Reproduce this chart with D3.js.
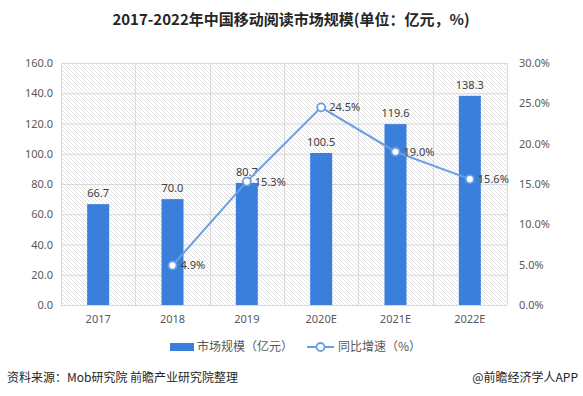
<!DOCTYPE html>
<html>
<head>
<meta charset="utf-8">
<title>中国移动阅读市场规模</title>
<script src="https://cdnjs.cloudflare.com/ajax/libs/d3/7.8.5/d3.min.js"></script>
<style>
  body { margin: 0; background: #fff; }
  text { font-family: "Microsoft YaHei", "Noto Sans CJK SC", sans-serif; }
</style>
</head>
<body>
<div id="chart"></div>
<script>
var years = ["2017", "2018", "2019", "2020E", "2021E", "2022E"];
var marketSize = [66.7, 70.0, 80.7, 100.5, 119.6, 138.3];
var growth = [null, 4.9, 15.3, 24.5, 19.0, 15.6];
var leftTicks = [0, 20, 40, 60, 80, 100, 120, 140, 160];
var rightTicks = [0, 5, 10, 15, 20, 25, 30];

var W = 583, H = 396;
var m = { left: 61, right: 507, top: 63, bottom: 305 };

var svg = d3.select("#chart").append("svg")
    .attr("width", W).attr("height", H);

// hatched plot background
var pat = svg.append("defs").append("pattern")
    .attr("id", "hatch").attr("patternUnits", "userSpaceOnUse")
    .attr("width", 4).attr("height", 4);
pat.append("path").attr("d", "M-1,-1 L5,5 M3,-1 L5,1 M-1,3 L1,5")
    .attr("stroke", "#d9d9d9").attr("stroke-width", 0.8);

var x = d3.scaleBand().domain(years).range([m.left, m.right]).paddingInner(0);
var y = d3.scaleLinear().domain([0, 160]).range([m.bottom, m.top]);
var y2 = d3.scaleLinear().domain([0, 30]).range([m.bottom, m.top]);

svg.append("rect").attr("x", m.left).attr("y", m.top)
    .attr("width", m.right - m.left).attr("height", m.bottom - m.top)
    .attr("fill", "url(#hatch)");

// grid
svg.append("g").selectAll("line").data(leftTicks).join("line")
    .attr("x1", m.left).attr("x2", m.right)
    .attr("y1", d => y(d) + 0.5).attr("y2", d => y(d) + 0.5)
    .attr("stroke", "#d9d9d9");
svg.append("g").selectAll("line").data(years.concat(["end"])).join("line")
    .attr("x1", (d, i) => Math.round(m.left + i * x.bandwidth()) + 0.5)
    .attr("x2", (d, i) => Math.round(m.left + i * x.bandwidth()) + 0.5)
    .attr("y1", m.top).attr("y2", m.bottom)
    .attr("stroke", "#d9d9d9");

// axes
var axL = svg.append("g").attr("transform", "translate(" + m.left + ",0)")
    .call(d3.axisLeft(y).tickValues(leftTicks).tickFormat(d3.format(".1f")).tickSize(0).tickPadding(8));
var axR = svg.append("g").attr("transform", "translate(" + m.right + ",0)")
    .call(d3.axisRight(y2).tickValues(rightTicks).tickFormat(d => d.toFixed(1) + "%").tickSize(0).tickPadding(12));
var axB = svg.append("g").attr("transform", "translate(0," + m.bottom + ")")
    .call(d3.axisBottom(x).tickSize(0).tickPadding(10));
[axL, axR, axB].forEach(function (a) {
  a.select(".domain").remove();
  a.selectAll("text").attr("fill", "#595959").style("font-size", "11px")
    .style("font-family", "'Noto Sans', sans-serif");
});

// bars
var bw = 22;
svg.append("g").selectAll("rect").data(marketSize).join("rect")
    .attr("x", (d, i) => x(years[i]) + x.bandwidth() / 2 - bw / 2)
    .attr("y", d => y(d))
    .attr("width", bw)
    .attr("height", d => y(0) - y(d))
    .attr("fill", "#3b7fdc");
svg.append("g").selectAll("text").data(marketSize).join("text")
    .attr("x", (d, i) => x(years[i]) + x.bandwidth() / 2)
    .attr("y", d => y(d) - 7)
    .attr("text-anchor", "middle")
    .attr("fill", "#404040").style("font-size", "11px")
    .style("font-family", "'Noto Sans', sans-serif")
    .text(d => d.toFixed(1));

// line
var pts = growth.map((g, i) => ({ g: g, yr: years[i] })).filter(d => d.g !== null);
var line = d3.line().x(d => x(d.yr) + x.bandwidth() / 2).y(d => y2(d.g));
svg.append("path").datum(pts).attr("d", line)
    .attr("fill", "none").attr("stroke", "#6b9fe0").attr("stroke-width", 2);
svg.append("g").selectAll("circle").data(pts).join("circle")
    .attr("cx", d => x(d.yr) + x.bandwidth() / 2)
    .attr("cy", d => y2(d.g))
    .attr("r", 4)
    .attr("fill", "#fff").attr("stroke", "#6b9fe0").attr("stroke-width", 1.8);
svg.append("g").selectAll("text").data(pts).join("text")
    .attr("x", d => x(d.yr) + x.bandwidth() / 2 + 8)
    .attr("y", d => y2(d.g) + 4)
    .attr("fill", "#404040").style("font-size", "11px")
    .style("font-family", "'Noto Sans', sans-serif")
    .text(d => d.g.toFixed(1) + "%");

// title
svg.append("text").attr("x", 291).attr("y", 25).attr("text-anchor", "middle")
    .attr("fill", "#262626").style("font-size", "15px").style("font-weight", "bold")
    .text("2017-2022年中国移动阅读市场规模(单位：亿元，%)");

// legend
var lg = svg.append("g").attr("transform", "translate(0,347)");
lg.append("rect").attr("x", 170).attr("y", -4).attr("width", 24).attr("height", 8).attr("fill", "#3b7fdc");
lg.append("text").attr("x", 197).attr("y", 4).attr("fill", "#595959").style("font-size", "12px").text("市场规模（亿元）");
lg.append("line").attr("x1", 307).attr("x2", 334).attr("y1", 0).attr("y2", 0)
    .attr("stroke", "#6b9fe0").attr("stroke-width", 2);
lg.append("circle").attr("cx", 320.5).attr("cy", 0).attr("r", 4)
    .attr("fill", "#fff").attr("stroke", "#6b9fe0").attr("stroke-width", 1.8);
lg.append("text").attr("x", 338).attr("y", 4).attr("fill", "#595959").style("font-size", "12px").text("同比增速（%）");

// footer
svg.append("text").attr("x", 7).attr("y", 382).attr("fill", "#262626").style("font-size", "12px")
    .text("资料来源：Mob研究院  前瞻产业研究院整理");
svg.append("text").attr("x", 578).attr("y", 382).attr("text-anchor", "end")
    .attr("fill", "#262626").style("font-size", "12px").text("@前瞻经济学人APP");
</script>
</body>
</html>
